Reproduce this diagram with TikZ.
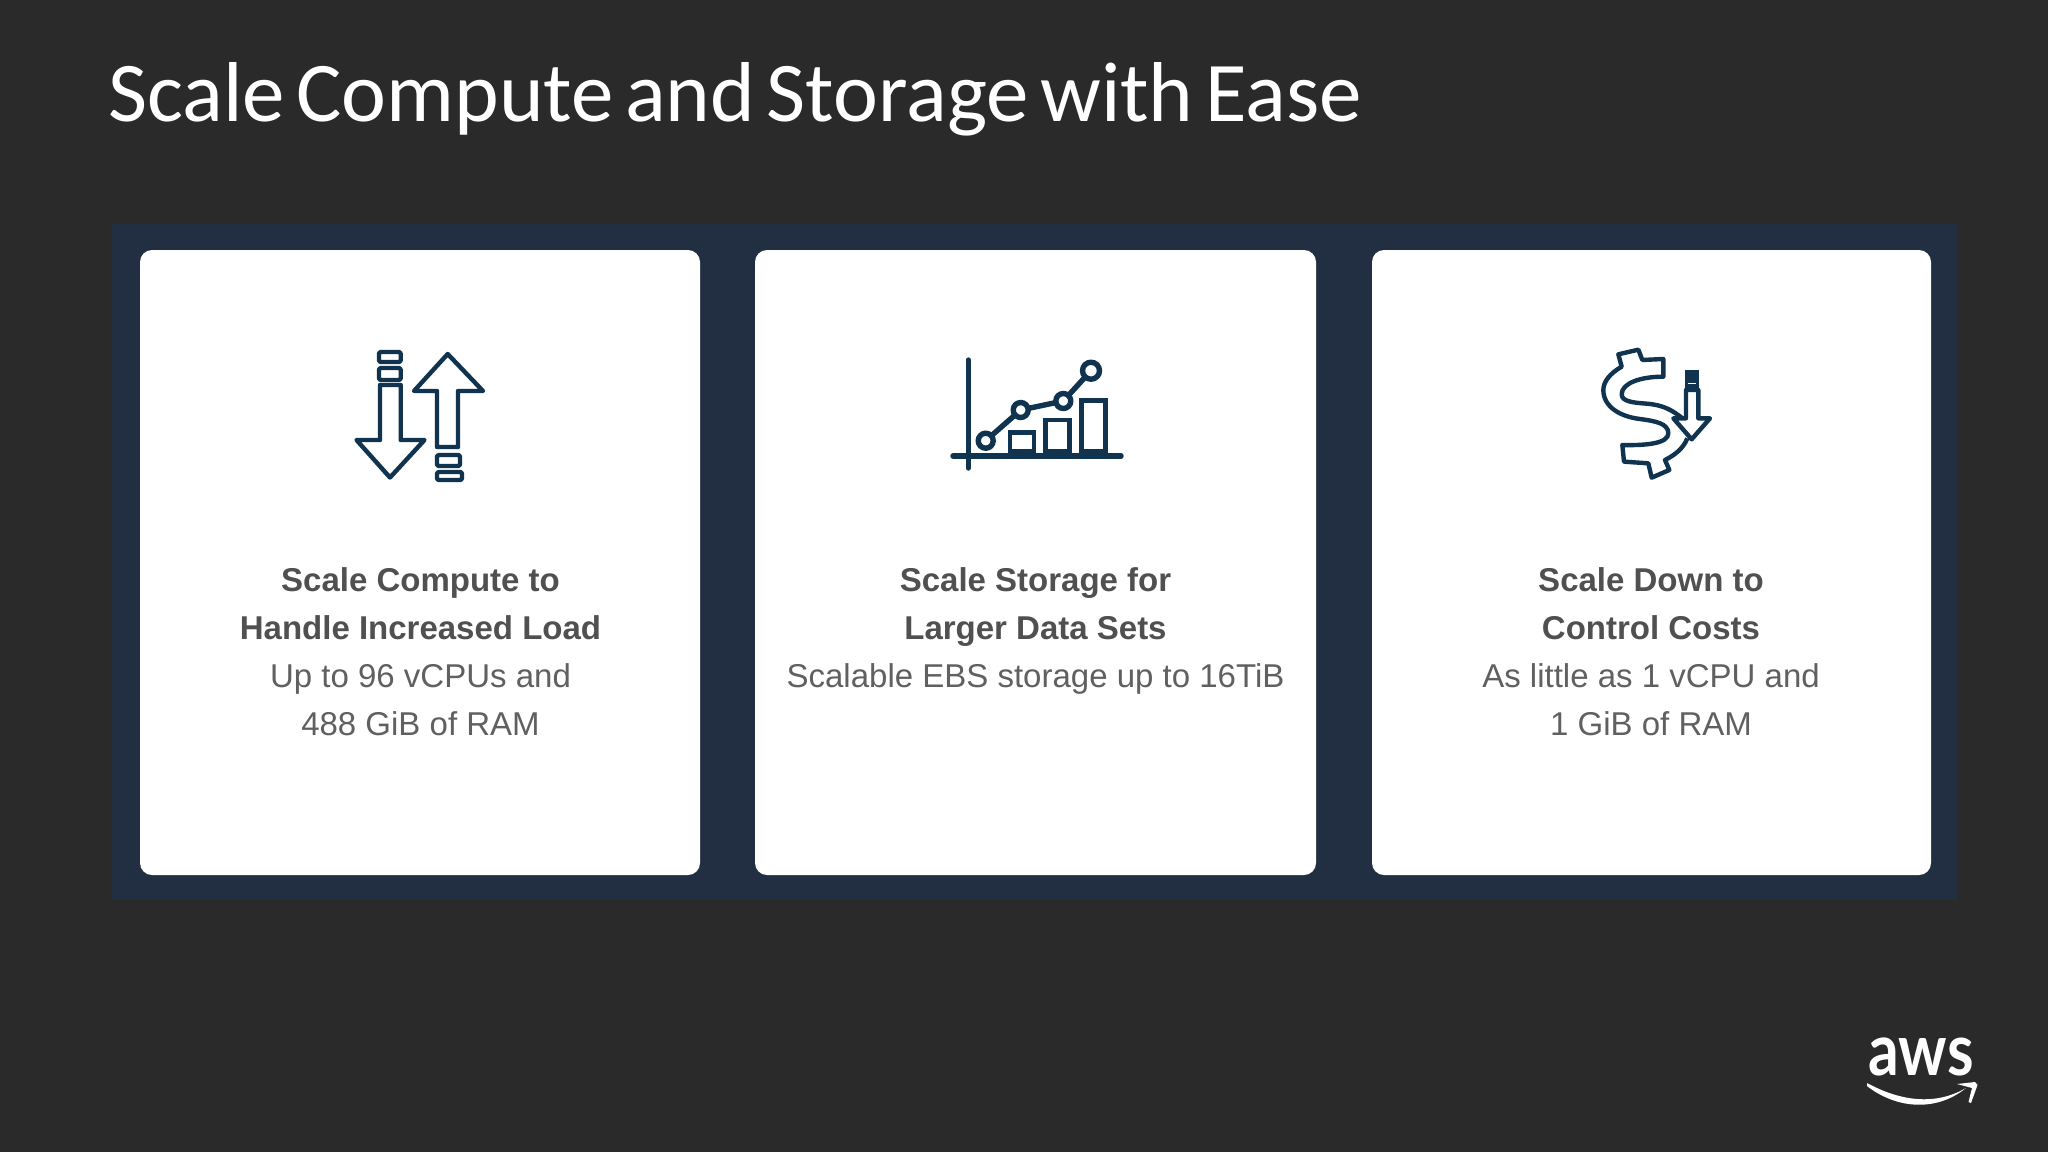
\documentclass[tikz,border=0pt]{standalone}
\usepackage{fontspec}
\setmainfont{Liberation Sans}
\newfontfamily\titlefont{Carlito}
\newfontfamily\logofont{Lato}
\definecolor{bgcol}{HTML}{2A2A2A}
\definecolor{panelcol}{HTML}{222E42}
\definecolor{iconcol}{HTML}{10344F}
\definecolor{headcol}{HTML}{505050}
\definecolor{bodycol}{HTML}{606060}
\tikzset{
  cardbox/.style={fill=white,rounded corners=12,inner sep=0,minimum height=625},
  icon/.style={draw=iconcol,line width=4.4,line join=round,fill=white},
  iconline/.style={draw=iconcol,line width=5.4,line cap=round},
  cardtext/.style={anchor=north,align=center,inner sep=0,font=\fontsize{33}{47.8}\selectfont,text=bodycol},
}
\newcommand{\hd}[1]{\textcolor{headcol}{\textbf{#1}}}
\begin{document}
\begin{tikzpicture}[x=1pt,y=-1pt]
\useasboundingbox (0,0) rectangle (2048,1152);
\fill[bgcol] (0,0) rectangle (2048,1152);
\node[anchor=base west,inner sep=0,text=white,font=\titlefont\fontsize{85}{90}\selectfont] (title) at (108,121) {\spaceskip=11.6pt Scale Compute and Storage with Ease};
\fill[panelcol] (112,224) rectangle (1957,900);
\node[cardbox,minimum width=560] (c1) at (420,562.5) {};
\node[cardbox,minimum width=561] (c2) at (1035.5,562.5) {};
\node[cardbox,minimum width=559] (c3) at (1651.5,562.5) {};
\node[cardtext] (t1) at (420.5,567.5) {\hd{Scale Compute to}\\\hd{Handle Increased Load}\\Up to 96 vCPUs and\\488 GiB of RAM};
\node[cardtext] (t2) at (1035.5,567.5) {\hd{Scale Storage for}\\\hd{Larger Data Sets}\\Scalable EBS storage up to 16TiB};
\node[cardtext] (t3) at (1651,567.5) {\hd{Scale Down to}\\\hd{Control Costs}\\As little as 1 vCPU and\\1 GiB of RAM};
% icon 1
\draw[icon,rounded corners=2] (379,352) rectangle (400.7,362);
\draw[icon,rounded corners=2] (379,368) rectangle (400.7,380);
\draw[icon] (380,385) -- (400.7,385) -- (400.7,440) -- (424.5,440) -- (390,477.5) -- (356.5,440) -- (380,440) -- cycle;
\draw[icon] (447.7,354) -- (483,391) -- (458,391) -- (458,447) -- (437,447) -- (437,391) -- (414,391) -- cycle;
\draw[icon,rounded corners=2] (437,455) rectangle (460,466);
\draw[icon,rounded corners=2] (437,472) rectangle (462,480);
% icon 2
\draw[iconline] (968.3,360) -- (968.3,468);
\draw[iconline,line cap=butt] (985.7,440.7) -- (1020.7,410) -- (1063.3,401) -- (1091,370.7);
\foreach \a/\b/\h in {1010/1034/432.7,1045.7/1069.3/420,1081.7/1105.7/400.7}{
  \draw[icon,line width=4.8,fill=white,line join=miter] (\a,456) rectangle (\b,\h);
  \fill[iconcol] (\a-2,449) rectangle (\b+2,456);
}
\draw[iconline] (953,456) -- (1121,456);
\foreach \x/\y/\r in {985.7/440.7/7.5,1020.7/410/7.5,1063.3/401/7.5,1091/370.7/8.5}{
  \draw[icon,line width=5.4] (\x,\y) circle[radius=\r];
}
% icon 3 (zoom coordinates: 1/3 scale, offset 1580,335)
\begin{scope}[shift={(1580,335)},x=0.3333pt,y=-0.3333pt]
\draw[icon] (305,248) .. controls (275,225) and (250,210) .. (200,206)
  .. controls (160,203) and (125,200) .. (125,178)
  .. controls (125,145) and (180,125) .. (250,125)
  -- (250,72) -- (187,75) -- (175,44) -- (115,58) -- (125,95)
  .. controls (90,115) and (70,140) .. (70,165)
  .. controls (70,215) and (120,245) .. (180,252)
  .. controls (225,258) and (265,265) .. (265,295)
  .. controls (265,325) and (200,332) .. (127,330)
  -- (132,380) -- (205,385) -- (215,428) -- (268,405) -- (255,375)
  .. controls (285,360) and (310,340) .. (322,310);
\draw[icon] (318,165) -- (355,165) -- (355,250) -- (390,250) -- (335,313) -- (280,250) -- (318,250) -- cycle;
\fill[iconcol] (314,106) rectangle (358,163);
\fill[white] (325,143) rectangle (348,148);
\end{scope}
% logo
\node[anchor=base,inner sep=0,text=white,xscale=0.84,font=\logofont\bfseries\fontsize{72}{72}\selectfont] (aws) at (1921,1075) {aws};
\fill[white] (1867,1083) .. controls (1900,1101) and (1935,1106) .. (1966,1088)
  .. controls (1935,1113) and (1895,1108) .. (1867,1086) -- cycle;
\fill[white] (1957,1084) -- (1975,1082) -- (1977.5,1085) -- (1971,1103) -- (1968.5,1102) -- (1972,1088) -- cycle;
\end{tikzpicture}
\end{document}
